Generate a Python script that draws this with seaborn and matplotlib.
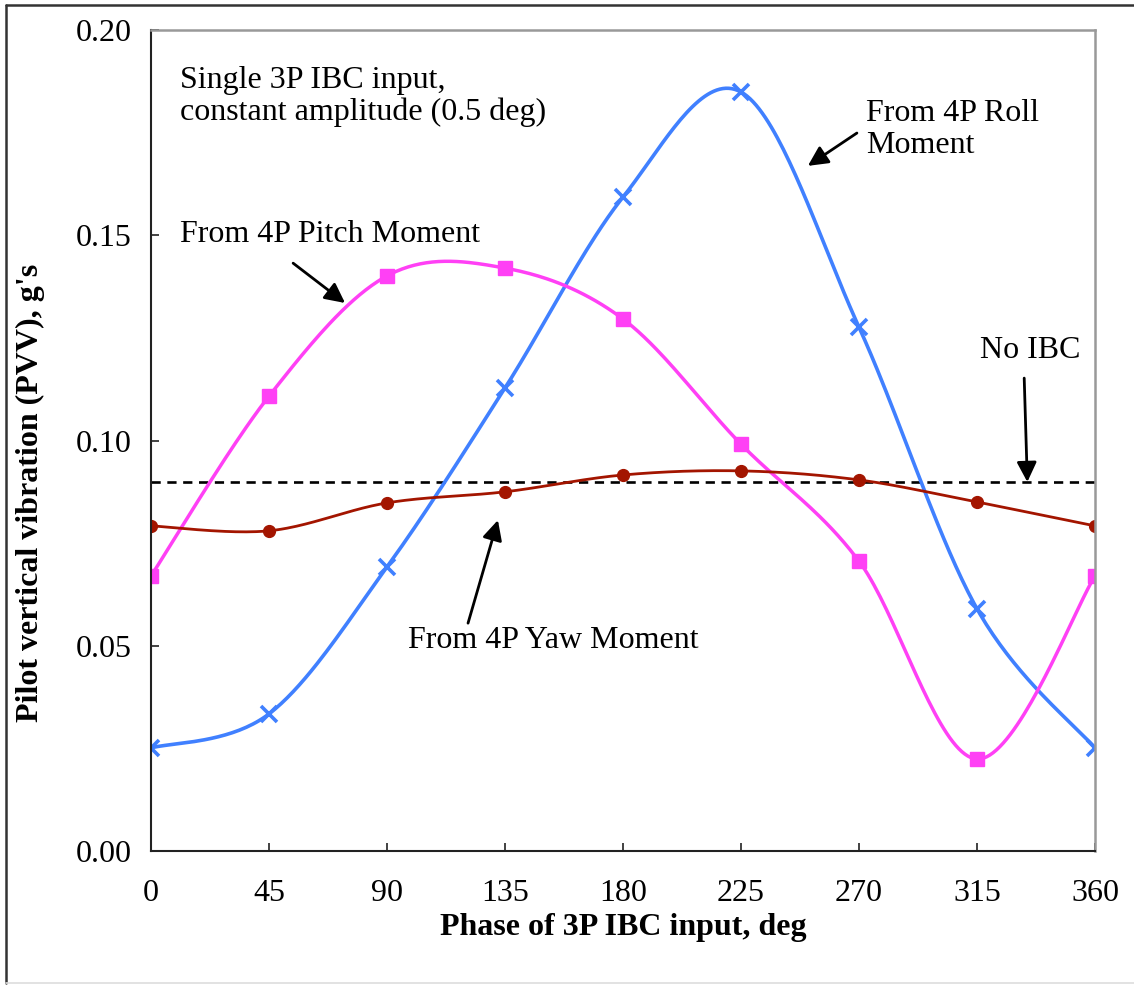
import numpy as np
import pandas as pd
import matplotlib
matplotlib.use("Agg")
import matplotlib.pyplot as plt
import seaborn as sns
from matplotlib.lines import Line2D

# ---- data ----
phase = [0, 45, 90, 135, 180, 225, 270, 315, 360]
roll = [0.0251, 0.0334, 0.0692, 0.1128, 0.1593, 0.1849, 0.1276, 0.0590, 0.0251]
pitch = [0.0670, 0.1108, 0.1401, 0.1420, 0.1296, 0.0991, 0.0706, 0.0224, 0.0670]
yaw = [0.0792, 0.0780, 0.0848, 0.0875, 0.0916, 0.0926, 0.0904, 0.0850, 0.0792]
no_ibc = 0.09
xticks = [0, 45, 90, 135, 180, 225, 270, 315, 360]
yticks = [0.00, 0.05, 0.10, 0.15, 0.20]

sns.set_theme(style="white")
plt.rcParams['font.family'] = ['Liberation Serif', 'DejaVu Serif']
plt.rcParams['text.color'] = 'black'
plt.rcParams['axes.labelcolor'] = 'black'


def smooth(xs, ys, n=40):
    """Excel-like smoothed line (uniform Catmull-Rom as cubic Bezier)."""
    P = np.column_stack([xs, ys]).astype(float)
    Pext = np.vstack([P[0], P, P[-1]])
    out = []
    t = np.linspace(0, 1, n)
    for i in range(1, len(Pext) - 2):
        p0, p1, p2, p3 = Pext[i - 1], Pext[i], Pext[i + 1], Pext[i + 2]
        c1 = p1 + (p2 - p0) / 6.0
        c2 = p2 - (p3 - p1) / 6.0
        seg = ((1 - t)[:, None] ** 3 * p1 + 3 * ((1 - t) ** 2 * t)[:, None] * c1
               + 3 * ((1 - t) * t ** 2)[:, None] * c2 + (t ** 3)[:, None] * p2)
        out.append(seg if i == 1 else seg[1:])
    S = np.vstack(out)
    return S[:, 0], S[:, 1]


W, H = 1134, 985
fig = plt.figure(figsize=(W / 100, H / 100), dpi=100)
ax = fig.add_axes([151 / W, 1 - 851 / H, (1095 - 151) / W, (851 - 30) / H])

c_pitch = '#FF40F5'
c_roll = '#4080FF'
c_yaw = '#A31500'

series = [
    (roll, c_roll, 'x', 11, 2.6, 2.6),
    (pitch, c_pitch, 's', 10, 2.5, 1),
    (yaw, c_yaw, 'o', 8.5, 2.0, 1),
]
for vals, col, mk, ms, lw, mew in series:
    sx, sy = smooth(phase, vals)
    sns.lineplot(x=sx, y=sy, sort=False, estimator=None, color=col, lw=lw, ax=ax)
    sns.lineplot(x=phase, y=vals, sort=False, estimator=None, color=col, lw=0,
                 marker=mk, markersize=ms, markeredgewidth=mew,
                 markeredgecolor=col, markerfacecolor=col, ax=ax)

ax.axhline(no_ibc, color='black', lw=1.9, ls=(0, (3.5, 2.5)), zorder=1)

ax.set_xlim(0, 360)
ax.set_ylim(0, 0.20)
ax.set_xticks(xticks)
ax.set_xticklabels([str(v) for v in xticks])
ax.set_yticks(yticks)
ax.set_yticklabels([f"{v:.2f}" for v in yticks])
ax.tick_params(axis='both', direction='in', length=6, width=1.2, colors='#222222',
               labelsize=23, labelcolor='black', bottom=True, left=True)
ax.tick_params(axis='x', pad=20)
ax.tick_params(axis='y', pad=14)

for s in ['left', 'bottom']:
    ax.spines[s].set_color('#222222')
    ax.spines[s].set_linewidth(1.5)
for s in ['top', 'right']:
    ax.spines[s].set_color('#999999')
    ax.spines[s].set_linewidth(1.8)

ax.set_xlabel("Phase of 3P IBC input, deg", fontsize=23, fontweight='bold')
ax.set_ylabel("Pilot vertical vibration (PVV), g's", fontsize=23, fontweight='bold')
ax.xaxis.set_label_coords(0.5, (851 - 927) / 821)
ax.xaxis.label.set_va('center')
ax.yaxis.set_label_coords((30 - 151) / 944, (851 - 493) / 821)
ax.yaxis.label.set_va('center')

fs = 23
ax.text(11.0, 0.1838, "Single 3P IBC input,\nconstant amplitude (0.5 deg)", fontsize=fs,
        va='center', ha='left', linespacing=1.15)
ax.text(272.7, 0.1758, "From 4P Roll\nMoment", fontsize=fs, va='center', ha='left',
        linespacing=1.15)
ax.text(11.0, 0.1503, "From 4P Pitch Moment", fontsize=fs, va='center', ha='left')
ax.text(316.1, 0.1220, "No IBC", fontsize=fs, va='center', ha='left')
ax.text(98.0, 0.0514, "From 4P Yaw Moment", fontsize=fs, va='center', ha='left')

arrowprops = dict(arrowstyle='-|>,head_length=1.0,head_width=0.5', color='black',
                  lw=2, shrinkA=0, shrinkB=0)
ax.annotate("", xy=(250.5, 0.1669), xytext=(269.2, 0.1749), arrowprops=arrowprops)
ax.annotate("", xy=(74.0, 0.1335), xytext=(54.2, 0.1432), arrowprops=arrowprops)
ax.annotate("", xy=(334.2, 0.0899), xytext=(333.0, 0.1152), arrowprops=arrowprops)
ax.annotate("", xy=(132.3, 0.0806), xytext=(120.9, 0.0555), arrowprops=arrowprops)

# outer frame
fig.add_artist(Line2D([6 / W, 6 / W], [1 - 5 / H, 1 - 983 / H], transform=fig.transFigure,
                      color='#333333', lw=1.8))
fig.add_artist(Line2D([6 / W, 1.0], [1 - 5 / H, 1 - 5 / H], transform=fig.transFigure,
                      color='#333333', lw=1.8))
fig.add_artist(Line2D([6 / W, 1.0], [1 - 983 / H, 1 - 983 / H], transform=fig.transFigure,
                      color='#DDDDDD', lw=1.2))

fig.savefig("out.png", dpi=100)
